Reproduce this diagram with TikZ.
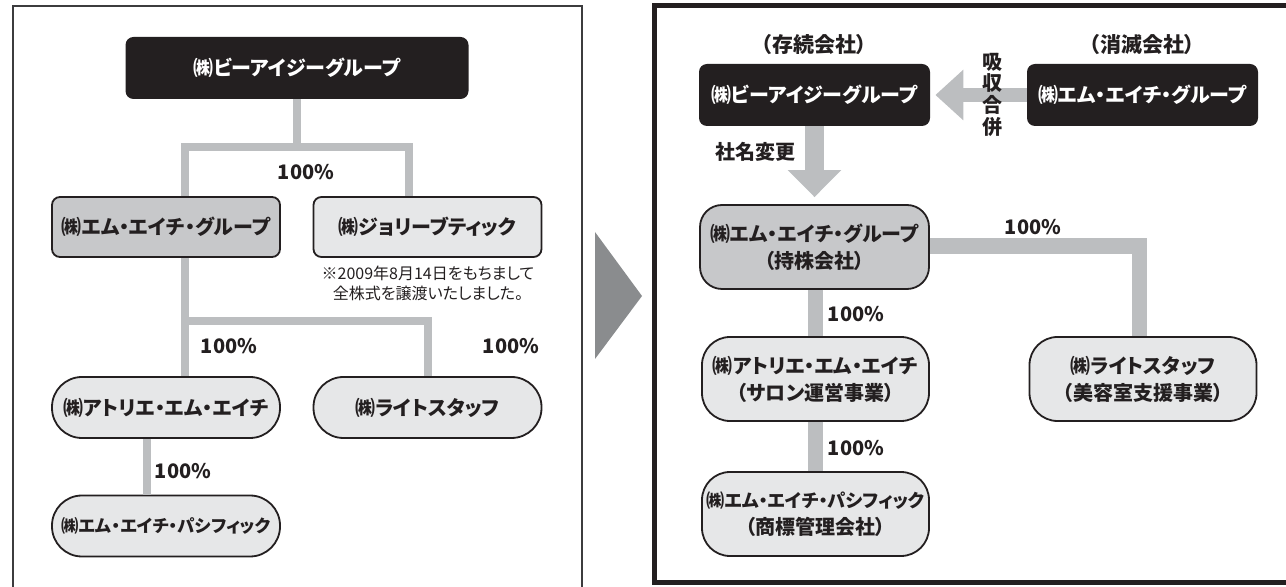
\documentclass[tikz,border=0pt]{standalone}
\usepackage{fontspec}
\setmainfont{Noto Sans CJK JP}[RawFeature=+palt]
\usetikzlibrary{arrows.meta}

\definecolor{ink}{HTML}{231F20}
\definecolor{framegray}{HTML}{3C3C3E}
\definecolor{midgray}{HTML}{C7C8CA}
\definecolor{palegray}{HTML}{E6E7E8}
\definecolor{linkgray}{HTML}{BCBEC0}
\definecolor{trigray}{HTML}{8A8C8E}

\tikzset{
  boxtext/.style={font=\bfseries\fontsize{10}{13.5}\selectfont, text=ink, align=center, inner sep=0pt},
  darkbox/.style={boxtext, fill=ink, text=white, rounded corners=4pt, minimum width=115.5pt, minimum height=31pt},
  midbox/.style={boxtext, draw=ink, line width=0.9pt, fill=midgray, rounded corners=4pt, minimum width=114pt, minimum height=30pt},
  lightbox/.style={midbox, fill=palegray},
  pill/.style={boxtext, draw=ink, line width=0.9pt, fill=palegray, rounded corners=15pt, minimum width=114pt, minimum height=30.5pt},
  bigpill/.style={pill, rounded corners=14pt, minimum width=113.5pt, minimum height=42pt},
  small/.style={font=\bfseries\fontsize{8.7}{13.5}\selectfont},
  link/.style={draw=linkgray, line width=4pt},
  fatlink/.style={draw=linkgray, line width=7.8pt},
  pct/.style={font=\bfseries\fontsize{10}{12}\selectfont, text=ink, inner sep=0pt},
  note/.style={font=\fontsize{8}{10}\selectfont, text=ink, align=center, inner sep=0pt}
}

\begin{document}
\begin{tikzpicture}[x=0.5pt,y=-0.5pt]
  \useasboundingbox (0,0) rectangle (1286,587);
  \clip (0,0) rectangle (1286,587);

  % frames and the arrow between them
  \draw[framegray, line width=1pt] (12.5,600) -- (12.5,6) -- (582,6) -- (582,600);
  \fill[trigray] (595,232) -- (642,296) -- (595,359) -- cycle;
  \draw[ink, line width=2.5pt] (654.5,5.5) rectangle (1300,583);

  % before
  \node[darkbox, minimum width=171.5pt] (bigroup) at (297,68) {㈱ビーアイジーグループ};
  \node[midbox] (mhgroup) at (166,227) {㈱エム・エイチ・グループ};
  \node[lightbox] (jolie) at (427.5,227) {㈱ジョリーブティック};
  \node[note] (jnote) at (428,283) {※2009年8月14日をもちまして\\全株式を譲渡いたしました。};
  \node[pill] (atelier) at (166,407.5) {㈱アトリエ・エム・エイチ};
  \node[pill] (light) at (427.5,407.5) {㈱ライトスタッフ};
  \node[pill, small] (pacific) at (166,526) {㈱エム・エイチ・パシフィック};

  \coordinate (j1) at (185,147.5);
  \coordinate (j2) at (409,147.5);
  \coordinate (j3) at (185,321.5);
  \coordinate (j4) at (428,321.5);
  \coordinate (j5) at (147,0);
  \draw[link] (bigroup.south) -- (bigroup.south |- j1);
  \draw[link] (mhgroup.north -| j1) -- (j1) -- (j2) -- (jolie.north -| j2);
  \draw[link] (mhgroup.south -| j3) -- (atelier.north -| j3);
  \draw[link] (j3) -- (j4) -- (light.north -| j4);
  \draw[link] (atelier.south -| j5) -- (pacific.north -| j5);

  \node[pct] (p1) at (306,172) {100\%};
  \node[pct] (p2) at (229,346) {100\%};
  \node[pct] (p3) at (511,346) {100\%};
  \node[pct] (p4) at (183,471) {100\%};

  % after
  \node[boxtext, font=\bfseries\fontsize{10.5}{12}\selectfont] (cont) at (814,45) {（存続会社）};
  \node[boxtext, font=\bfseries\fontsize{10.5}{12}\selectfont] (gone) at (1142,45) {（消滅会社）};
  \node[darkbox] (bigroupR) at (814.5,95) {㈱ビーアイジーグループ};
  \node[darkbox] (mhgroupR) at (1142.5,95) {㈱エム・エイチ・グループ};
  \node[bigpill, fill=midgray, rounded corners=11pt, minimum height=42pt, minimum width=114.5pt] (hold) at (814.5,247) {㈱エム・エイチ・グループ\\（持株会社）};
  \node[bigpill] (atelierR) at (815.5,379) {㈱アトリエ・エム・エイチ\\（サロン運営事業）};
  \node[bigpill] (lightR) at (1143,379) {㈱ライトスタッフ\\（美容室支援事業）};
  \node[bigpill, font=\bfseries\fontsize{9.1}{13.5}\selectfont] (pacificR) at (815.5,514) {㈱エム・エイチ・パシフィック\\{\fontsize{10}{13.5}\selectfont（商標管理会社）}};

  \draw[linkgray, line width=7pt, -{Triangle[length=14pt,width=24.5pt]}, shorten >=2.5pt]
    (mhgroupR.west) -- (bigroupR.east);
  \draw[linkgray, line width=9.5pt, -{Triangle[length=13.5pt,width=26pt]}, shorten >=3.5pt]
    (bigroupR.south) -- (bigroupR.south |- hold.north);
  \node[boxtext] (rename) at (755,152) {社名変更};
  \node[boxtext, font=\bfseries\fontsize{10}{10.8}\selectfont] (merge) at (992,94.5) {吸\\収\\合\\併};

  \coordinate (k1) at (1139.5,246);
  \draw[fatlink] (hold.east |- k1) -- (k1) -- (lightR.north -| k1);
  \draw[fatlink] (hold.south -| atelierR.north) -- (atelierR.north);
  \draw[fatlink] (atelierR.south) -- (pacificR.north);

  \node[pct] (p5) at (1033,227) {100\%};
  \node[pct] (p6) at (856,314) {100\%};
  \node[pct] (p7) at (856,448) {100\%};
\end{tikzpicture}
\end{document}
